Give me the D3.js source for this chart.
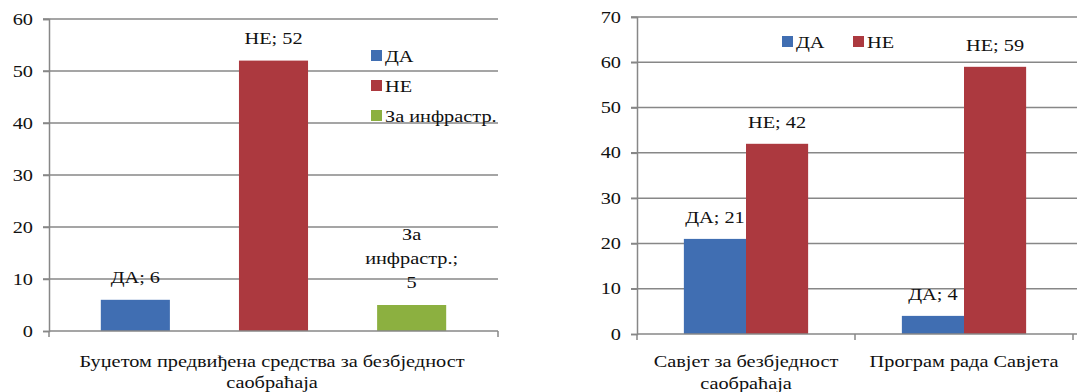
<!DOCTYPE html>
<html>
<head>
<meta charset="utf-8">
<script src="https://cdn.jsdelivr.net/npm/d3@7"></script>
<style>
  html, body { margin: 0; padding: 0; background: #fff; }
  svg { display: block; }
</style>
</head>
<body>
<svg id="chart" width="1077" height="392" font-family="Liberation Serif" font-size="16"></svg>
<script>
// ---- data ----
const leftCategories = ["Буџетом предвиђена средства за безбједност\nсаобраћаја"];
const leftSeries = ["ДА", "НЕ", "За инфрастр."];
const leftValues = [6, 52, 5];
const leftWrapLabel = [false, false, true];
const leftTicks = [0, 10, 20, 30, 40, 50, 60];

const rightCategories = ["Савјет за безбједност\nсаобраћаја", "Програм рада Савјета"];
const rightSeries = ["ДА", "НЕ"];
const rightDA = [21, 4];
const rightNE = [42, 59];
const rightTicks = [0, 10, 20, 30, 40, 50, 60, 70];

const seriesColors = ["#406EB2", "#AC393F", "#8CB040"];
const gridColor = "#878787";
const textColor = "#111111";
const SX = 1.27; // horizontal stretch of the lettering
const FONT = "Liberation Serif";

const svg = d3.select("#chart");

function stretched(g, x, y, str, anchor) {
  return g.append("text")
    .attr("transform", `translate(${x},${y}) scale(${SX},1)`)
    .attr("text-anchor", anchor || "middle")
    .attr("font-family", FONT).attr("font-size", 16).attr("fill", textColor)
    .text(str);
}

function valueLabelLines(name, value, wrap) {
  if (!wrap) return [`${name}; ${value}`];
  const parts = name.split(" ");
  parts[parts.length - 1] += ";";
  return parts.concat([String(value)]);
}

function drawChart(opts) {
  const g = svg.append("g");
  const { left, top, bottom, gridRight, yMax, ticks } = opts;
  const y = d3.scaleLinear().domain([0, yMax]).range([bottom, top]);

  // gridlines
  g.selectAll("line.grid").data(ticks.filter(t => t > 0)).join("line")
    .attr("x1", left - 6).attr("x2", gridRight)
    .attr("y1", d => y(d)).attr("y2", d => y(d))
    .attr("stroke", gridColor).attr("stroke-width", 1.5);

  // y axis
  const yAxis = g.append("g").attr("transform", `translate(${left},0)`)
    .call(d3.axisLeft(y).tickValues(ticks).tickSize(6).tickFormat(d3.format("d")));
  yAxis.attr("font-family", FONT).attr("font-size", 16);
  yAxis.select(".domain").attr("stroke", gridColor).attr("stroke-width", 1.5);
  yAxis.selectAll(".tick line").attr("stroke", gridColor).attr("stroke-width", 1.5);
  yAxis.selectAll(".tick text")
    .attr("x", null).attr("dy", "0.32em")
    .attr("transform", `translate(-16,0) scale(${SX},1)`)
    .attr("font-family", FONT).attr("font-size", 16).attr("fill", textColor);

  return { g, y };
}

// ---------- left chart ----------
{
  const { g, y } = drawChart({ left: 49, top: 19, bottom: 331, gridRight: 498, yMax: 60, ticks: leftTicks });
  const x = d3.scaleBand().domain(leftSeries).range([49, 498]).paddingInner(0.5).paddingOuter(0.375);

  g.selectAll("rect.bar").data(leftSeries).join("rect")
    .attr("x", d => x(d)).attr("width", x.bandwidth())
    .attr("y", (d, i) => y(leftValues[i]))
    .attr("height", (d, i) => y(0) - y(leftValues[i]))
    .attr("fill", (d, i) => seriesColors[i]);

  // x axis
  g.append("line").attr("x1", 49).attr("x2", 498).attr("y1", y(0)).attr("y2", y(0))
    .attr("stroke", gridColor).attr("stroke-width", 1.5);
  [49, 498].forEach(px => g.append("line").attr("x1", px).attr("x2", px)
    .attr("y1", y(0)).attr("y2", y(0) + 6).attr("stroke", gridColor).attr("stroke-width", 1.5));

  // value labels
  leftSeries.forEach((s, i) => {
    const lines = valueLabelLines(s, leftValues[i], leftWrapLabel[i]);
    const cx = x(s) + x.bandwidth() / 2;
    const base = y(leftValues[i]) - 17;
    lines.forEach((ln, k) => stretched(g, cx, base - (lines.length - 1 - k) * 24, ln));
  });

  // category label
  leftCategories[0].split("\n").forEach((ln, k) => stretched(g, 272, 367 + k * 21, ln));

  // legend
  leftSeries.forEach((s, i) => {
    g.append("rect").attr("x", 371).attr("y", 50 + i * 30).attr("width", 11).attr("height", 11)
      .attr("fill", seriesColors[i]);
    stretched(g, 385, 62 + i * 30, s, "start");
  });
}

// ---------- right chart ----------
{
  const { g, y } = drawChart({ left: 637, top: 17, bottom: 334, gridRight: 1077, yMax: 70, ticks: rightTicks });
  const x0 = d3.scaleBand().domain(rightCategories).range([637, 1073]).paddingInner(0.43).paddingOuter(0.215);
  const x1 = d3.scaleBand().domain(rightSeries).range([0, x0.bandwidth()]);
  const values = [rightDA, rightNE];

  rightCategories.forEach((c, ci) => {
    rightSeries.forEach((s, si) => {
      const v = values[si][ci];
      g.append("rect")
        .attr("x", x0(c) + x1(s)).attr("width", x1.bandwidth())
        .attr("y", y(v)).attr("height", y(0) - y(v))
        .attr("fill", seriesColors[si]);
      stretched(g, x0(c) + x1(s) + x1.bandwidth() / 2, y(v) - 16, `${s}; ${v}`);
    });
    c.split("\n").forEach((ln, k) => stretched(g, x0(c) + x0.bandwidth() / 2, 367 + k * 22, ln));
  });

  // x axis
  g.append("line").attr("x1", 637).attr("x2", 1077).attr("y1", y(0)).attr("y2", y(0))
    .attr("stroke", gridColor).attr("stroke-width", 1.5);
  const step = x0.step();
  [637, 637 + step, 637 + 2 * step].forEach(px => g.append("line").attr("x1", px).attr("x2", px)
    .attr("y1", y(0)).attr("y2", y(0) + 6).attr("stroke", gridColor).attr("stroke-width", 1.5));

  // legend
  const legendX = [782, 853];
  rightSeries.forEach((s, i) => {
    g.append("rect").attr("x", legendX[i]).attr("y", 36).attr("width", 11).attr("height", 11)
      .attr("fill", seriesColors[i]);
    stretched(g, legendX[i] + 14, 48, s, "start");
  });
}
</script>
</body>
</html>
